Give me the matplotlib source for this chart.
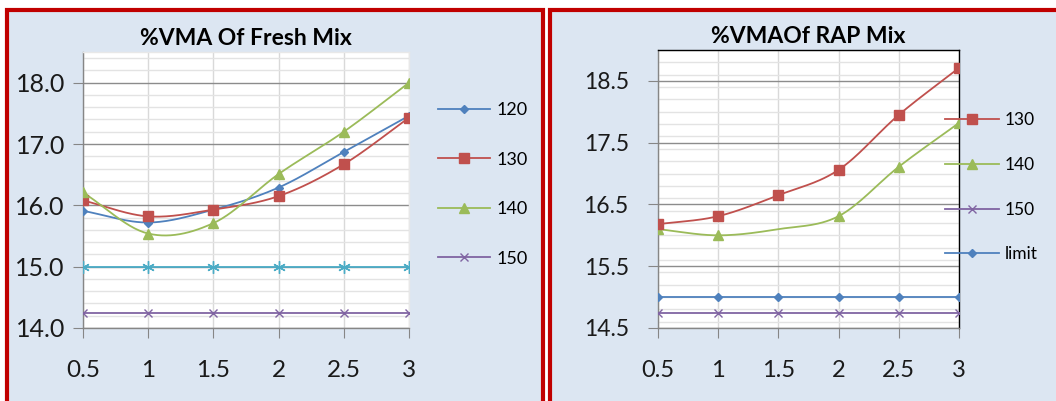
import numpy as np
import matplotlib
matplotlib.use("Agg")
import matplotlib.pyplot as plt
from matplotlib.patches import Rectangle
from matplotlib.ticker import MultipleLocator, FormatStrFormatter

plt.rcParams['font.family'] = ['Lato', 'DejaVu Sans']

# ── data ──
binder = [0.5, 1, 1.5, 2, 2.5, 3]
x_labels = ['0.5', '1', '1.5', '2', '2.5', '3']

fresh_120 = [15.91, 15.72, 15.93, 16.29, 16.87, 17.46]
fresh_130 = [16.08, 15.82, 15.93, 16.15, 16.67, 17.43]
fresh_140 = [16.21, 15.54, 15.71, 16.51, 17.20, 18.00]
fresh_150 = [14.25, 14.25, 14.25, 14.25, 14.25, 14.25]
fresh_limit = [15.0, 15.0, 15.0, 15.0, 15.0, 15.0]
fresh_yticks = [14, 15, 16, 17, 18]

rap_130 = [16.18, 16.31, 16.65, 17.06, 17.95, 18.71]
rap_140 = [16.10, 16.00, 16.10, 16.31, 17.11, 17.82]
rap_150 = [14.74, 14.74, 14.74, 14.74, 14.74, 14.74]
rap_limit = [15.0, 15.0, 15.0, 15.0, 15.0, 15.0]
rap_yticks = [14.5, 15.5, 16.5, 17.5, 18.5]

BLUE = '#4F81BD'
RED = '#C0504D'
GREEN = '#9BBB59'
PURPLE = '#8064A2'
CYAN = '#4BACC6'
PANEL = '#DCE6F2'
BORDER = '#C00000'

W, H = 1056, 401


def smooth(x, y, n=30):
    """Bezier curve through the points (like Excel smoothed lines)."""
    x = np.asarray(x, float)
    y = np.asarray(y, float)
    px = np.concatenate([[2 * x[0] - x[1]], x, [2 * x[-1] - x[-2]]])
    py = np.concatenate([[2 * y[0] - y[1]], y, [2 * y[-1] - y[-2]]])
    xs, ys = [], []
    t = np.linspace(0, 1, n)
    for i in range(1, len(px) - 2):
        p0, p1, p2, p3 = [np.array([px[j], py[j]]) for j in (i - 1, i, i + 1, i + 2)]
        c1 = p1 + (p2 - p0) / 6
        c2 = p2 - (p3 - p1) / 6
        pts = ((1 - t) ** 3)[:, None] * p1 + (3 * (1 - t) ** 2 * t)[:, None] * c1 \
            + (3 * (1 - t) * t ** 2)[:, None] * c2 + (t ** 3)[:, None] * p2
        xs.extend(pts[:, 0])
        ys.extend(pts[:, 1])
    return np.array(xs), np.array(ys)


def series(ax, y, color, marker, ms, markevery=None):
    sx, sy = smooth(binder, y)
    ax.plot(sx, sy, color=color, lw=1.3, zorder=3)
    ax.plot(binder, y, linestyle='none', marker=marker, ms=ms, color=color,
            mec=color, mew=1.0, markevery=markevery, zorder=4)


def style_axes(ax, ylo, yhi, yticks, ylabsize, ypad, xlabsize, dark_frame):
    ax.set_facecolor('white')
    ax.set_xlim(0.5, 3)
    ax.set_ylim(ylo, yhi)
    ax.set_xticks(binder)
    ax.set_xticklabels(x_labels)
    ax.set_yticks(yticks)
    ax.yaxis.set_minor_locator(MultipleLocator(0.2))
    ax.yaxis.set_major_formatter(FormatStrFormatter('%.1f'))
    ax.grid(True, which='minor', axis='y', color='#E3E3E3', lw=1.0, zorder=0)
    ax.grid(True, which='major', axis='y', color='#8C8C8C', lw=1.0, zorder=1)
    ax.grid(True, which='major', axis='x', color='#D9D9D9', lw=1.0, zorder=0)
    ax.tick_params(axis='y', which='minor', length=0)
    ax.tick_params(axis='y', which='major', direction='out', length=7, color='#868686',
                   labelsize=ylabsize, pad=ypad, labelcolor='#1a1a1a')
    ax.tick_params(axis='x', direction='out', length=7, color='#868686',
                   labelsize=xlabsize, pad=16, labelcolor='#1a1a1a')
    ax.spines['left'].set_color('#868686')
    ax.spines['bottom'].set_color('#868686')
    frame = 'black' if dark_frame else '#E8E8E8'
    ax.spines['top'].set_color(frame)
    ax.spines['right'].set_color(frame)
    for s in ax.spines.values():
        s.set_linewidth(1.0)


fig = plt.figure(figsize=(W / 100, H / 100), dpi=100)
fig.patch.set_facecolor('white')

# panel backgrounds with red borders
for x0, x1 in [(7, 543), (550, W + 10)]:
    fig.add_artist(Rectangle((x0 / W, -0.05), (x1 - x0) / W, (H - 10) / H + 0.05,
                             transform=fig.transFigure, facecolor=PANEL,
                             edgecolor=BORDER, lw=3.0, zorder=0))

# ── Left panel: fresh mix ──
ax1 = fig.add_axes([83 / W, (H - 328) / H, 326 / W, 276 / H])
series(ax1, fresh_limit, CYAN, (6, 2, 0), 9)
series(ax1, fresh_150, PURPLE, 'x', 6)
series(ax1, fresh_120, BLUE, 'D', 4.5)
series(ax1, fresh_130, RED, 's', 6.5)
series(ax1, fresh_140, GREEN, '^', 7)
style_axes(ax1, 14.0, 18.5, fresh_yticks, 18, 6, 17.5, False)
ax1.set_title('%VMA Of Fresh Mix', fontsize=16.5, fontweight='bold', pad=5)

h1 = [plt.Line2D([], [], color=BLUE, lw=1.3, marker='D', ms=4.5),
      plt.Line2D([], [], color=RED, lw=1.3, marker='s', ms=6.5),
      plt.Line2D([], [], color=GREEN, lw=1.3, marker='^', ms=7),
      plt.Line2D([], [], color=PURPLE, lw=1.3, marker='x', ms=6)]
fig.legend(h1, ['120', '130', '140', '150'], loc='upper left',
           bbox_to_anchor=(438 / W, 1 - 102 / H), frameon=False, fontsize=13,
           handlelength=2.9, handletextpad=0.35, labelspacing=1.86,
           borderpad=0, borderaxespad=0)

# ── Right panel: RAP mix ──
ax2 = fig.add_axes([658 / W, (H - 328) / H, 301 / W, 278 / H])
series(ax2, rap_limit, BLUE, 'D', 4.5)
series(ax2, rap_150, PURPLE, 'x', 6)
series(ax2, rap_140, GREEN, '^', 7, markevery=[0, 1, 3, 4, 5])
series(ax2, rap_130, RED, 's', 6.5)
style_axes(ax2, 14.5, 19.0, rap_yticks, 16.5, 14, 17, True)
ax2.set_title('%VMAOf RAP Mix', fontsize=16.5, fontweight='bold', pad=5)

h2 = [plt.Line2D([], [], color=RED, lw=1.3, marker='s', ms=6.5),
      plt.Line2D([], [], color=GREEN, lw=1.3, marker='^', ms=7),
      plt.Line2D([], [], color=PURPLE, lw=1.3, marker='x', ms=6),
      plt.Line2D([], [], color=BLUE, lw=1.3, marker='D', ms=4.5)]
fig.legend(h2, ['130', '140', '150', 'limit'], loc='upper left',
           bbox_to_anchor=(945 / W, 1 - 112 / H), frameon=False, fontsize=12.5,
           handlelength=3.1, handletextpad=0.35, labelspacing=1.66,
           borderpad=0, borderaxespad=0)

fig.savefig('out.png', dpi=100)
